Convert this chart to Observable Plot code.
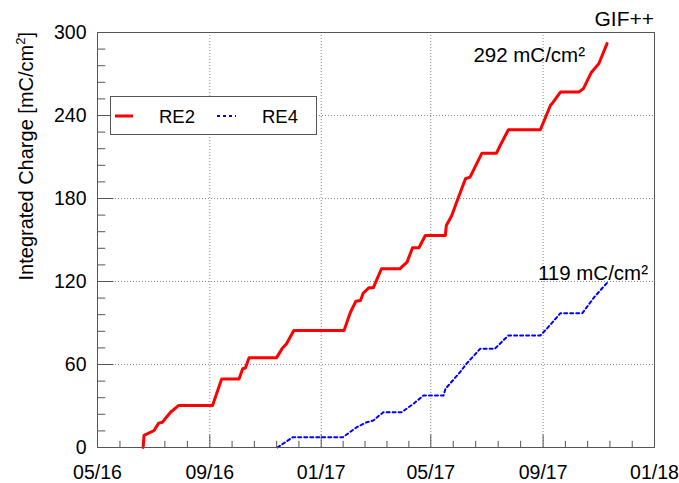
<!DOCTYPE html>
<html>
<head>
<meta charset="utf-8">
<script src="https://cdn.jsdelivr.net/npm/d3@7"></script>
<script src="https://cdn.jsdelivr.net/npm/@observablehq/plot@0.6"></script>
<style>
  html, body { margin: 0; padding: 0; background: white; }
  #chart svg { display: block; overflow: visible; }
</style>
</head>
<body>
<div id="chart"></div>
<script>
// ---- Data ----
const re2Dates = ["2016-06-20","2016-06-21","2016-07-02","2016-07-07","2016-07-11","2016-07-20","2016-07-29",
  "2016-09-04","2016-09-14","2016-10-03","2016-10-07","2016-10-10","2016-10-14","2016-11-13","2016-11-19",
  "2016-11-24","2016-12-02","2017-01-26","2017-02-02","2017-02-08","2017-02-13","2017-02-16","2017-02-22",
  "2017-02-27","2017-03-08","2017-03-28","2017-04-05","2017-04-11","2017-04-18","2017-04-25","2017-05-17",
  "2017-05-18","2017-05-24","2017-05-30","2017-06-08","2017-06-13","2017-06-26","2017-07-12","2017-07-16",
  "2017-07-25","2017-08-29","2017-09-09","2017-09-12","2017-09-20","2017-10-10","2017-10-15","2017-10-24",
  "2017-11-01","2017-11-10"];
const re2Values = [0,8.7,12.3,17.6,18.3,25.5,30.4,
  30.4,49.6,49.6,56.9,57.5,64.8,64.8,71.3,
  75,84.6,84.6,97.8,105.8,106.3,111.5,115.4,
  115.4,129.2,129.2,134,144.4,144.4,153.3,153.3,
  160.5,167.7,178.6,194.3,195.4,212.8,212.8,218.3,
  229.7,229.7,247.2,249.6,256.9,256.9,259.3,271.3,
  277.4,292];

const re4Dates = ["2016-11-14","2016-12-01","2017-01-25","2017-02-09","2017-02-20","2017-02-27","2017-03-10",
  "2017-03-30","2017-04-12","2017-04-23","2017-05-15","2017-05-17","2017-06-02","2017-06-09","2017-06-24",
  "2017-07-10","2017-07-25","2017-08-29","2017-09-05","2017-09-20","2017-10-14","2017-10-27","2017-11-10"];
const re4Values = [0,7.5,7.5,14.7,18.3,19.5,25.5,
  25.5,31.6,37.6,37.6,42.4,54.4,60.5,71.3,
  71.3,81,81,85.8,97.1,97.1,108.7,119];

const seriesNames = ["RE2", "RE4"];
const xTickDates = ["2016-05-01","2016-09-01","2017-01-01","2017-05-01","2017-09-01","2018-01-01"];
const xTickLabels = ["05/16","09/16","01/17","05/17","09/17","01/18"];
const yTicks = [0, 60, 120, 180, 240, 300];
const yDomain = [0, 300];
const titleText = "GIF++";
const yLabel = "Integrated Charge [mC/cm";
const unitText = "mC/cm²";

// ---- Build tables ----
const re2 = re2Dates.map((d, i) => ({date: new Date(d), value: re2Values[i]}));
const re4 = re4Dates.map((d, i) => ({date: new Date(d), value: re4Values[i]}));
const xMajor = xTickDates.map(d => new Date(d));
const labelOf = new Map(xMajor.map((d, i) => [+d, xTickLabels[i]]));
const xMinor = [];
for (let i = 0; i < xMajor.length - 1; i++) {
  const a = +xMajor[i], b = +xMajor[i + 1];
  for (let k = 1; k < 5; k++) xMinor.push(new Date(a + (b - a) * k / 5));
}
const yMinor = d3.range(yDomain[0], yDomain[1] + 1, 12).filter(v => !yTicks.includes(v));
const gridX = xMajor.slice(1, -1);
const gridY = yTicks.slice(1, -1);

const FONT = "'Liberation Sans', Arial, Helvetica, sans-serif";
const AX = "#555";
const GRID = "#8a8a8a";

const plot = Plot.plot({
  width: 679, height: 483,
  marginLeft: 97, marginRight: 25, marginTop: 32, marginBottom: 36,
  x: {type: "utc", domain: [xMajor[0], xMajor[xMajor.length - 1]]},
  y: {domain: yDomain},
  style: {fontFamily: FONT, fontSize: "19px", background: "white", color: "black", overflow: "visible"},
  marks: [
    Plot.gridX(gridX, {stroke: GRID, strokeOpacity: 1, strokeDasharray: "1,2"}),
    Plot.gridY(gridY, {stroke: GRID, strokeOpacity: 1, strokeDasharray: "1,2"}),
    // inward ticks
    Plot.axisX(xMinor, {tickSize: -6.2, tickFormat: () => "", stroke: AX, label: null}),
    Plot.axisX(xMajor, {tickSize: -12.5, tickFormat: () => "", stroke: AX, label: null}),
    Plot.axisY(yMinor, {tickSize: -8.3, tickFormat: () => "", stroke: AX, label: null}),
    Plot.axisY(yTicks, {tickSize: -16.5, tickFormat: () => "", stroke: AX, label: null}),
    // labels
    Plot.axisX(xMajor, {tickSize: 0, tickPadding: 18, tickFormat: d => labelOf.get(+d), fontSize: 19.5, fill: "black", label: null}),
    Plot.axisY(yTicks, {tickSize: 0, tickPadding: 11, fontSize: 19.5, fill: "black", label: null}),
    // series
    Plot.line(re2, {x: "date", y: "value", stroke: "#ff0000", strokeWidth: 3, curve: "linear"}),
    Plot.line(re4, {x: "date", y: "value", stroke: "#0000ff", strokeWidth: 2, strokeDasharray: "3,3", curve: "linear"}),
    Plot.text([re2[re2.length - 1]], {x: "date", y: "value", text: d => `${d.value} ${unitText}`,
      textAnchor: "end", dx: -22, dy: 12, fontSize: 20.5, fill: "black"}),
    Plot.text([re4[re4.length - 1]], {x: "date", y: "value", text: d => `${d.value} ${unitText}`,
      textAnchor: "end", dx: 41, dy: -9, fontSize: 20.5, fill: "black"}),
    Plot.frame({stroke: AX})
  ]
});
document.getElementById("chart").appendChild(plot);

// ---- Title, axis title and legend ----
const svg = d3.select(plot);
svg.append("text")
  .attr("x", 654).attr("y", 26)
  .attr("text-anchor", "end")
  .style("font-family", FONT).style("font-size", "21px").attr("fill", "black")
  .text(titleText);

const yt = svg.append("text")
  .attr("transform", "translate(33,32) rotate(-90)")
  .attr("text-anchor", "end")
  .style("font-family", FONT).style("font-size", "20px").attr("fill", "black");
yt.append("tspan").text(yLabel);
yt.append("tspan").attr("dy", -8).style("font-size", "13px").text("2");
yt.append("tspan").attr("dy", 8).text("]");

const lg = svg.append("g");
lg.append("rect").attr("x", 110.5).attr("y", 96.5).attr("width", 206).attr("height", 38)
  .attr("fill", "white").attr("stroke", AX).attr("stroke-width", 1);
const items = [
  {name: seriesNames[0], x0: 115, x1: 133, tx: 159, stroke: "#ff0000", sw: 3, dash: null},
  {name: seriesNames[1], x0: 217, x1: 236, tx: 262, stroke: "#0000ff", sw: 2, dash: "3,3"}
];
for (const it of items) {
  lg.append("line").attr("x1", it.x0).attr("x2", it.x1).attr("y1", 116).attr("y2", 116)
    .attr("stroke", it.stroke).attr("stroke-width", it.sw).attr("stroke-dasharray", it.dash);
  lg.append("text").attr("x", it.tx).attr("y", 123.3).attr("text-anchor", "start")
    .style("font-family", FONT).style("font-size", "18.5px").attr("fill", "black").text(it.name);
}
</script>
</body>
</html>
